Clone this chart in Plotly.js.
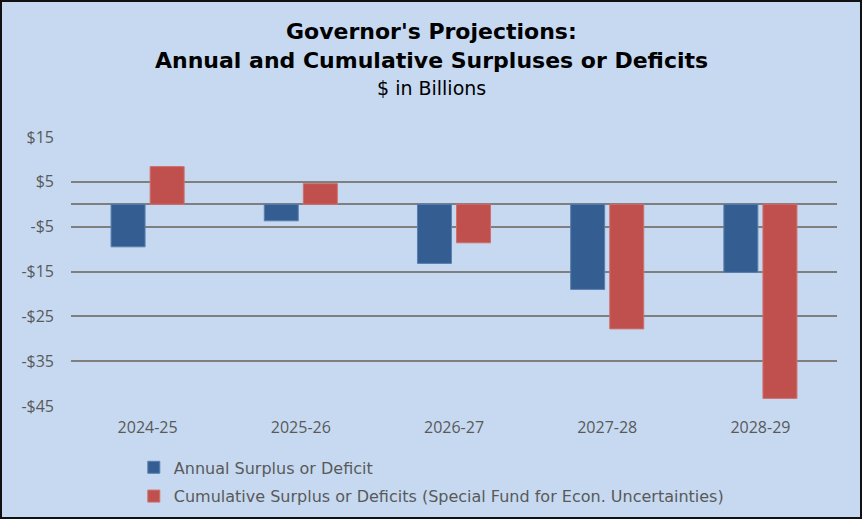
<!DOCTYPE html>
<html>
<head>
<meta charset="utf-8">
<script src="https://cdn.plot.ly/plotly-3.0.1.min.js"></script>
<style>
  html, body { margin: 0; padding: 0; background: #C6D9F1; }
  #chart { width: 862px; height: 519px; box-sizing: border-box; border: 2px solid #111; }
</style>
</head>
<body>
<div id="chart"></div>
<script>
const years = ["2024-25", "2025-26", "2026-27", "2027-28", "2028-29"];
const annual = [-9.5, -3.7, -13.2, -19.0, -15.2];
const cumulative = [8.4, 4.6, -8.6, -27.8, -43.3];
const yTickVals = [15, 5, -5, -15, -25, -35, -45];
const yTickText = ["$15", "$5", "-$5", "-$15", "-$25", "-$35", "-$45"];
const seriesNames = ["Annual Surplus or Deficit", "Cumulative Surplus or Deficits (Special Fund for Econ. Uncertainties)"];
const titleLines = ["Governor's Projections:", "Annual and Cumulative Surpluses or Deficits"];
const subtitle = "$ in Billions";

const fontFam = "'Open Sans', Lato, sans-serif";
const wideFam = "'DejaVu Sans', 'Open Sans', sans-serif";
const traces = [
  { type: "bar", x: years, y: annual, name: seriesNames[0], legendgroup: "a",
    marker: { color: "#345E92", line: { color: "#5A7FB0", width: 1 } } },
  { type: "bar", x: years, y: cumulative, name: seriesNames[1], legendgroup: "b",
    marker: { color: "#C0504D", line: { color: "#D0706D", width: 1 } } }
];

const titleX = 0.47;
const layout = {
  width: 858, height: 515,
  paper_bgcolor: "#C6D9F1", plot_bgcolor: "#C6D9F1",
  margin: { l: 69, r: 23, t: 135, b: 111, autoexpand: false },
  barmode: "group", bargap: 0.49, bargroupgap: 0.13,
  font: { family: fontFam, color: "#595959", size: 16 },
  annotations: [
    { text: "<b>" + titleLines[0] + "</b>", xref: "paper", yref: "paper", x: titleX, y: 1.394,
      xanchor: "center", yanchor: "middle", showarrow: false,
      font: { family: wideFam, size: 22, color: "#000" } },
    { text: "<b>" + titleLines[1] + "</b>", xref: "paper", yref: "paper", x: titleX, y: 1.283,
      xanchor: "center", yanchor: "middle", showarrow: false,
      font: { family: wideFam, size: 22, color: "#000" } },
    { text: subtitle, xref: "paper", yref: "paper", x: titleX, y: 1.183,
      xanchor: "center", yanchor: "middle", showarrow: false,
      font: { family: wideFam, size: 19, color: "#000" } }
  ],
  xaxis: { showgrid: false, zeroline: false, showline: false, ticks: "",
    tickfont: { size: 16, color: "#595959" }, ticklabelstandoff: 10 },
  yaxis: { range: [-45, 15], tickvals: yTickVals, ticktext: yTickText,
    showgrid: true, gridcolor: "#7F7F7F", gridwidth: 2,
    zeroline: true, zerolinecolor: "#7F7F7F", zerolinewidth: 2,
    showline: false, ticks: "", ticklabelstandoff: 16,
    tickfont: { size: 16, color: "#595959" } },
  showlegend: true,
  legend: { orientation: "v", x: 0.082, xanchor: "left", y: -0.165, yanchor: "top",
    bgcolor: "rgba(0,0,0,0)", font: { family: wideFam, size: 16, color: "#595959" },
    tracegroupgap: 5, itemwidth: 30, traceorder: "grouped" }
};

Plotly.newPlot("chart", traces, layout, { displayModeBar: false, staticPlot: true });
</script>
</body>
</html>
